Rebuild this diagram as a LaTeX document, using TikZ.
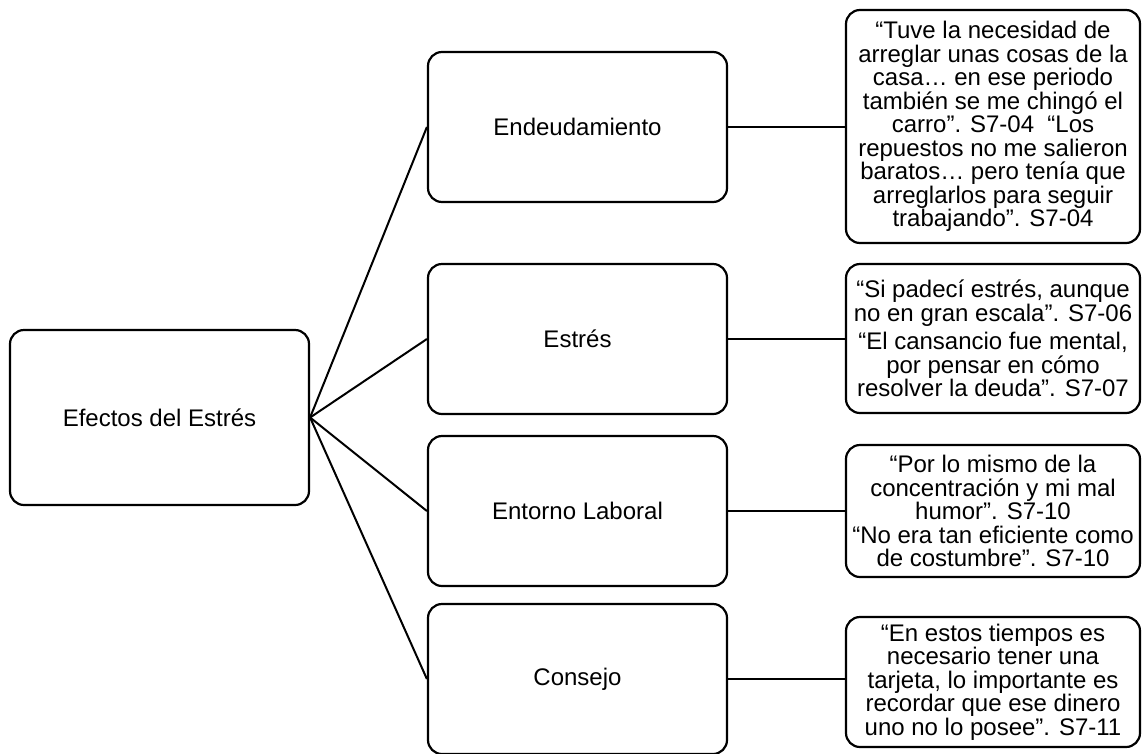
\documentclass[tikz,border=0pt]{standalone}
\usepackage{fontspec}
\setmainfont{Liberation Sans}
\begin{document}
\begin{tikzpicture}[x=1pt,y=-1pt,
  box/.style={draw=black, line width=2.2pt, rounded corners=14pt, fill=white,
    inner sep=0pt, align=center, font=\fontsize{24}{23.5}\selectfont},
  midbox/.style={box, minimum width=299pt, minimum height=150pt},
  quotebox/.style={box, minimum width=294pt},
  link/.style={draw=black, line width=2pt}]
  % canvas
  \fill[white] (0,0) rectangle (1143,753);
  \useasboundingbox (0,0) rectangle (1143,753);

  % root
  \node[box, minimum width=299pt, minimum height=175pt] (root) at (159.5,417.5) {Efectos del Estrés};

  % categories
  \node[midbox] (m1) at (577.5,127) {Endeudamiento};
  \node[midbox] (m2) at (577.5,339) {Estrés};
  \node[midbox] (m3) at (577.5,511) {Entorno Laboral};
  \node[midbox] (m4) at (577.5,679) {Consejo};

  % quotes
  \node[quotebox, minimum height=233pt] (q1) at (993,126.5) {“Tuve la necesidad de\\arreglar unas cosas de la\\casa… en ese periodo\\también se me chingó el\\carro”. S7-04 \ “Los\\repuestos no me salieron\\baratos… pero tenía que\\arreglarlos para seguir\\trabajando”. S7-04};
  \node[quotebox, minimum height=149pt] (q2) at (993,338.5) {“Si padecí estrés, aunque\\no en gran escala”. S7-06\\[5pt]“El cansancio fue mental,\\por pensar en cómo\\resolver la deuda”. S7-07};
  \node[quotebox, minimum height=132pt] (q3) at (993,511) {“Por lo mismo de la\\concentración y mi mal\\humor”. S7-10\\“No era tan eficiente como\\de costumbre”. S7-10};
  \node[quotebox, minimum height=130pt] (q4) at (993,682) {“En estos tiempos es\\necesario tener una\\tarjeta, lo importante es\\recordar que ese dinero\\uno no lo posee”. S7-11};

  % connectors
  \foreach \m in {m1,m2,m3,m4}
    \draw[link] (root.east) -- (\m.west);
  \foreach \m/\q in {m1/q1,m2/q2,m3/q3,m4/q4}
    \draw[link] (\m.east) -- (\m.east -| \q.west);
\end{tikzpicture}
\end{document}
